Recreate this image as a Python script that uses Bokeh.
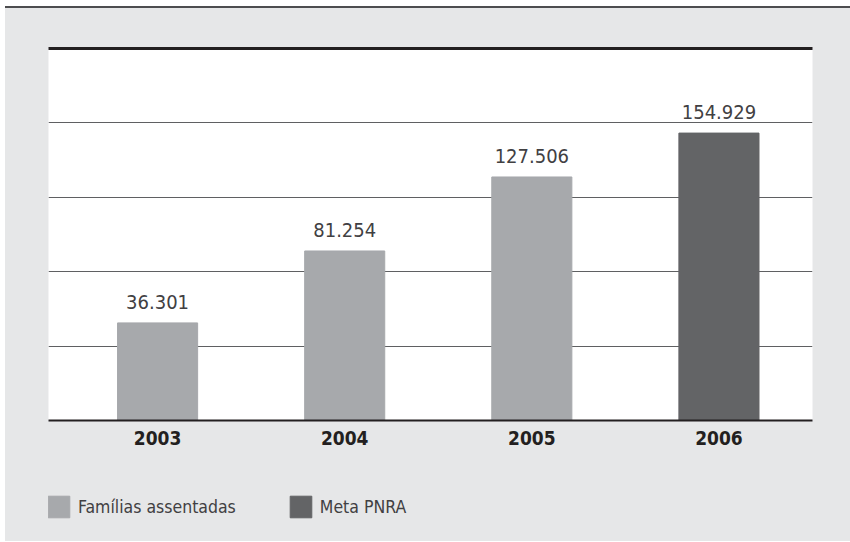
from bokeh.plotting import figure
from bokeh.layouts import column
from bokeh.models import (ColumnDataSource, Range1d, FixedTicker, LinearAxis,
                          Legend, LegendItem, Grid)
from bokeh.core.properties import value
from bokeh.embed import file_html
from bokeh.resources import INLINE

# ---- data ----
years = ["2003", "2004", "2005", "2006"]
values = [36301, 81254, 127506, 154929]
labels = ["36.301", "81.254", "127.506", "154.929"]
series = ["Famílias assentadas", "Famílias assentadas", "Famílias assentadas", "Meta PNRA"]
legend_names = ["Famílias assentadas", "Meta PNRA"]

# ---- styling ----
series_colors = {"Famílias assentadas": "#a7a9ac", "Meta PNRA": "#636466"}
FONT = "DejaVu Sans Condensed"
BG = "#e6e7e8"
Y0, Y1 = -24700, 207800

x_idx = list(range(len(years)))
source = ColumnDataSource(dict(
    x=x_idx, top=values, label=labels,
    color=[series_colors[s] for s in series],
))

p = figure(width=845, height=462,
           x_range=Range1d(-0.583, 3.5), y_range=Range1d(Y0, Y1),
           output_backend="svg", toolbar_location=None,
           background_fill_color="white", border_fill_color=BG,
           outline_line_color=None,
           min_border_left=43, min_border_right=38,
           min_border_top=40, min_border_bottom=50,
           y_axis_location=None)

# remove default grids, add our own horizontal grid
p.center = [c for c in p.center if not isinstance(c, Grid)]
grid = Grid(dimension=1, ticker=FixedTicker(ticks=[Y0 + k * (Y1 - Y0) / 5 for k in range(1, 5)]),
            grid_line_color="#5f6062", grid_line_width=1)
p.add_layout(grid)

r = p.vbar(x="x", top="top", bottom=Y0, width=0.428, color="color", source=source)

p.text(x="x", y="top", text="label", source=source,
       text_align="center", text_baseline="alphabetic", y_offset=-21,
       text_font=value(FONT), text_font_size="20px", text_color="#414042")

xa = p.xaxis[0]
xa.ticker = FixedTicker(ticks=x_idx)
xa.major_label_overrides = {i: y for i, y in enumerate(years)}
xa.major_tick_line_color = None
xa.minor_tick_line_color = None
xa.major_tick_out = 0
xa.major_tick_in = 0
xa.axis_line_color = "#231f20"
xa.axis_line_width = 2
xa.major_label_text_font = FONT
xa.major_label_text_font_style = "bold"
xa.major_label_text_font_size = "19px"
xa.major_label_text_color = "#231f20"
xa.major_label_standoff = 10

top_axis = LinearAxis(ticker=FixedTicker(ticks=[]), major_label_text_font_size="0px",
                      axis_line_width=3, axis_line_color="#231f20",
                      major_tick_line_color=None, minor_tick_line_color=None)
p.add_layout(top_axis, "above")

# ---- legend strip ----
lf = figure(width=845, height=71, x_range=Range1d(0, 1), y_range=Range1d(0, 1),
            output_backend="svg", toolbar_location=None,
            min_border_left=43, min_border_right=38,
            min_border_top=0, min_border_bottom=0,
            background_fill_color=BG, border_fill_color=BG, outline_line_color=None,
            x_axis_location=None, y_axis_location=None)
lf.center = [c for c in lf.center if not isinstance(c, Grid)]
items = []
for name in legend_names:
    rr = lf.vbar(x=[-10], top=[-10], bottom=-11, width=0.1, color=series_colors[name])
    items.append(LegendItem(label=name, renderers=[rr]))
legend = Legend(items=items, orientation="horizontal", location=(-3, 21),
                background_fill_alpha=0, border_line_color=None,
                glyph_width=27, glyph_height=27, label_standoff=6, spacing=51,
                label_text_font=FONT, label_text_font_size="17.5px",
                label_text_color="#414042", margin=0, padding=0)
lf.add_layout(legend, "center")

layout = column(p, lf, spacing=0,
                styles={"margin-left": "5px", "margin-top": "6px",
                        "border-top": "2px solid #4d4d4f",
                        "background-color": BG})

open("out.html", "w").write(file_html(layout, INLINE))
